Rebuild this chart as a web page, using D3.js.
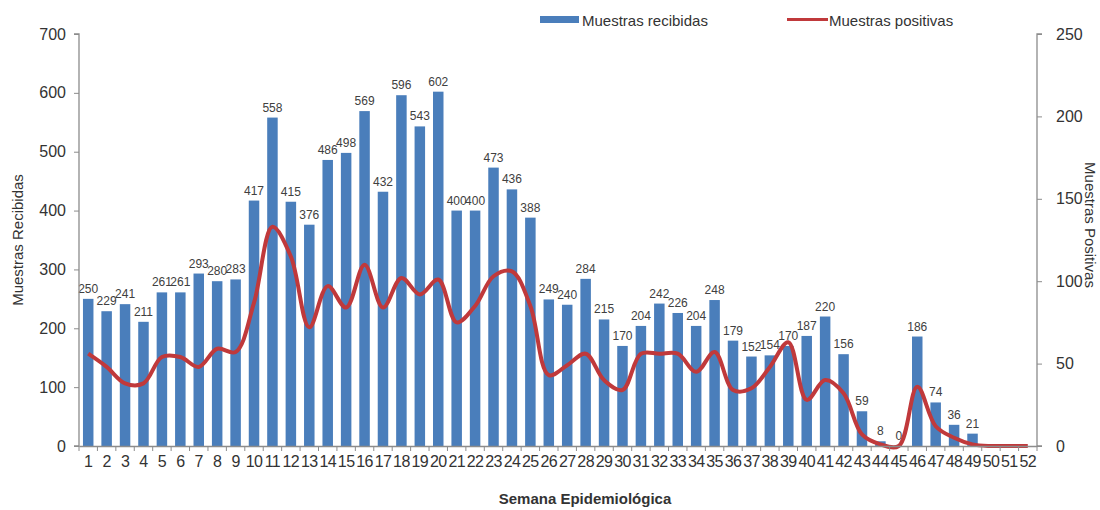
<!DOCTYPE html>
<html>
<head>
<meta charset="utf-8">
<script src="https://cdn.jsdelivr.net/npm/d3@7"></script>
<style>
  body { margin: 0; background: #fff; }
  text { font-family: "Liberation Sans", Arial, sans-serif; }
</style>
</head>
<body>
<svg id="chart" width="1100" height="510"></svg>
<script>
const weeks = d3.range(1, 53).map(String);
const recibidas = [250,229,241,211,261,261,293,280,283,417,558,415,376,486,498,569,432,596,543,602,400,400,473,436,388,249,240,284,215,170,204,242,226,204,248,179,152,154,170,187,220,156,59,8,0,186,74,36,21,0,0,0];
const positivas = [56,48,38,38,54,54,48,59,57,87,133,115,72,97,84,110,84,102,92,101,75,85,103,106,85,43,49,56,40,34,56,56,56,45,57,34,35,48,63,28,40,32,7,1,0,36,12,5,1,0,0,0];
const labeledWeeks = 49;
const leftTicks = [0,100,200,300,400,500,600,700];
const rightTicks = [0,50,100,150,200,250];

const svg = d3.select("#chart");
const x0 = 79, x1 = 1037, yTop = 34, yBot = 446;

const x = d3.scaleBand().domain(weeks).range([x0, x1]).paddingInner(0.43).paddingOuter(0.215);
const xb = d3.scaleBand().domain(weeks).range([x0, x1]);
const yL = d3.scaleLinear().domain([0, 700]).range([yBot, yTop]);
const yR = d3.scaleLinear().domain([0, 250]).range([yBot, yTop]);

const axisColor = "#8c8c8c";
const textColor = "#333";

// bars
svg.append("g").selectAll("rect").data(recibidas).join("rect")
  .attr("x", (d, i) => x(weeks[i]))
  .attr("y", d => yL(d))
  .attr("width", x.bandwidth())
  .attr("height", d => yBot - yL(d))
  .attr("fill", "#4a7ebb");

// bar labels
svg.append("g").selectAll("text").data(recibidas.slice(0, labeledWeeks)).join("text")
  .attr("x", (d, i) => xb(weeks[i]) + xb.bandwidth() / 2)
  .attr("y", d => yL(d) - 6)
  .attr("text-anchor", "middle")
  .attr("font-size", 12)
  .attr("fill", "#404040")
  .text(d => d);

// line
const line = d3.line()
  .x((d, i) => xb(weeks[i]) + xb.bandwidth() / 2)
  .y(d => yR(d))
  .curve(d3.curveCatmullRom.alpha(0.5));
svg.append("path").datum(positivas)
  .attr("d", line)
  .attr("fill", "none")
  .attr("stroke", "#c0393b")
  .attr("stroke-width", 4)
  .attr("stroke-linejoin", "round");

// left axis
const gL = svg.append("g").attr("transform", `translate(${x0},0)`)
  .call(d3.axisLeft(yL).tickValues(leftTicks).tickSize(5).tickPadding(8));
// right axis
const gR = svg.append("g").attr("transform", `translate(${x1},0)`)
  .call(d3.axisRight(yR).tickValues(rightTicks).tickSize(5).tickPadding(14));
// bottom axis
const gB = svg.append("g").attr("transform", `translate(0,${yBot})`)
  .call(d3.axisBottom(xb).tickSize(0).tickPadding(10));
// tick marks between categories
gB.selectAll(".sep").data(weeks.concat(["end"])).join("line")
  .attr("class", "sep")
  .attr("x1", (d, i) => x0 + i * xb.step())
  .attr("x2", (d, i) => x0 + i * xb.step())
  .attr("y1", 0).attr("y2", 5)
  .attr("stroke", axisColor);

[gL, gR, gB].forEach(g => {
  g.selectAll(".domain").attr("stroke", axisColor).attr("stroke-width", 1.3);
  g.selectAll(".tick line").attr("stroke", axisColor);
  g.selectAll(".tick text").attr("fill", textColor).attr("font-size", 16)
    .attr("font-family", "'Liberation Sans', Arial, sans-serif");
});
gB.selectAll(".tick text").attr("font-size", 16).attr("letter-spacing", "-0.6");
gL.select(".domain").attr("d", `M-5,${yTop}H0V${yBot}H-5`);
gR.select(".domain").attr("d", `M5,${yTop}H0V${yBot}H5`);

// axis titles
svg.append("text")
  .attr("transform", `translate(23,240) rotate(-90)`)
  .attr("text-anchor", "middle")
  .attr("font-size", 15)
  .attr("fill", textColor)
  .text("Muestras Recibidas");
svg.append("text")
  .attr("transform", `translate(1085,225) rotate(90)`)
  .attr("text-anchor", "middle")
  .attr("font-size", 15)
  .attr("fill", textColor)
  .text("Muestras Positivas");
svg.append("text")
  .attr("x", 585).attr("y", 504)
  .attr("text-anchor", "middle")
  .attr("font-size", 15)
  .attr("font-weight", "bold")
  .attr("fill", textColor)
  .text("Semana Epidemiológica");

// legend
const lg = svg.append("g");
lg.append("rect").attr("x", 540).attr("y", 16).attr("width", 39).attr("height", 7).attr("fill", "#4a7ebb");
lg.append("text").attr("x", 582).attr("y", 26).attr("font-size", 15).attr("fill", textColor).text("Muestras recibidas");
lg.append("line").attr("x1", 787).attr("x2", 828).attr("y1", 19.5).attr("y2", 19.5)
  .attr("stroke", "#c0393b").attr("stroke-width", 3);
lg.append("text").attr("x", 829).attr("y", 26).attr("font-size", 15).attr("fill", textColor).text("Muestras positivas");
</script>
</body>
</html>
